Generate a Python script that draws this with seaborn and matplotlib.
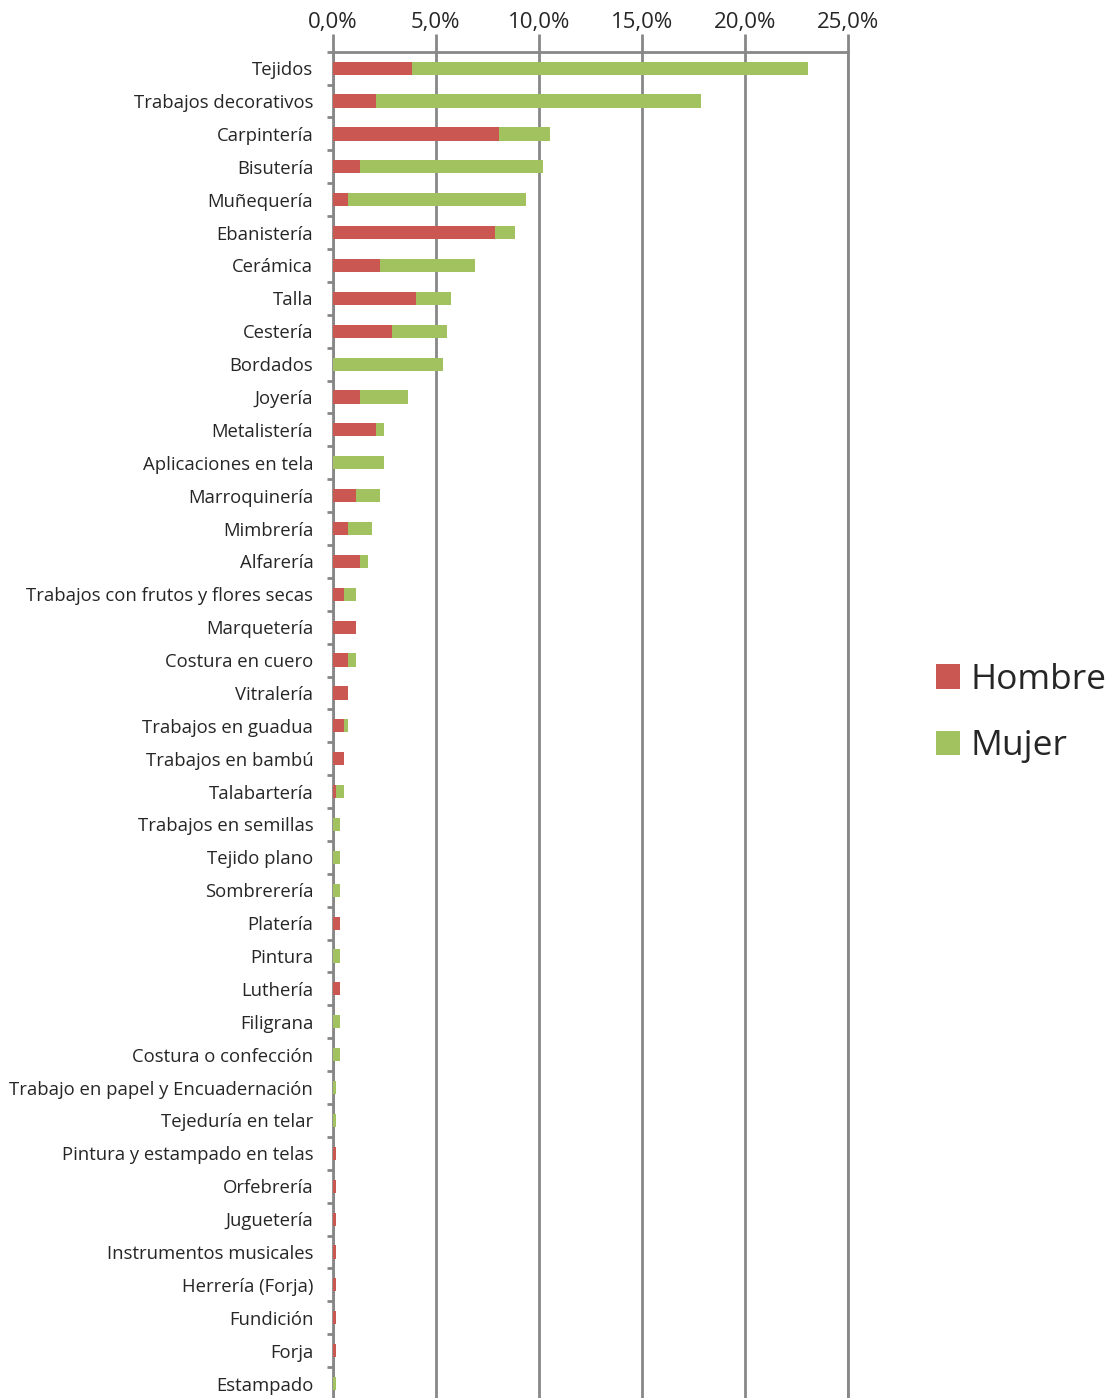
import numpy as np
import pandas as pd
import seaborn as sns
import matplotlib
matplotlib.use('Agg')
import matplotlib.pyplot as plt
from matplotlib.patches import Patch
from matplotlib.ticker import FuncFormatter

# oficios artesanales, porcentaje por sexo
oficios = ['Tejidos', 'Trabajos decorativos', 'Carpintería', 'Bisutería', 'Muñequería',
           'Ebanistería', 'Cerámica', 'Talla', 'Cestería', 'Bordados', 'Joyería',
           'Metalistería', 'Aplicaciones en tela', 'Marroquinería', 'Mimbrería', 'Alfarería',
           'Trabajos con frutos y flores secas', 'Marquetería', 'Costura en cuero', 'Vitralería',
           'Trabajos en guadua', 'Trabajos en bambú', 'Talabartería', 'Trabajos en semillas',
           'Tejido plano', 'Sombrerería', 'Platería', 'Pintura', 'Luthería', 'Filigrana',
           'Costura o confección', 'Trabajo en papel y Encuadernación', 'Tejeduría en telar',
           'Pintura y estampado en telas', 'Orfebrería', 'Juguetería', 'Instrumentos musicales',
           'Herrería (Forja)', 'Fundición', 'Forja', 'Estampado']
hombre = [3.85, 2.09, 8.05, 1.33, 0.74, 7.86, 2.29, 4.03, 2.86, 0.0, 1.33,
          2.08, 0.0, 1.13, 0.74, 1.33, 0.55, 1.13, 0.74, 0.74,
          0.55, 0.55, 0.18, 0.0, 0.0, 0.0, 0.37, 0.0, 0.37, 0.0,
          0.0, 0.0, 0.0, 0.18, 0.18, 0.18, 0.18, 0.18, 0.18, 0.18, 0.0]
mujer = [19.22, 15.79, 2.50, 8.85, 8.66, 0.97, 4.61, 1.70, 2.69, 5.37, 2.31,
         0.39, 2.47, 1.16, 1.16, 0.37, 0.58, 0.0, 0.39, 0.0,
         0.19, 0.0, 0.37, 0.37, 0.37, 0.37, 0.0, 0.37, 0.0, 0.37,
         0.37, 0.18, 0.18, 0.0, 0.0, 0.0, 0.0, 0.0, 0.0, 0.0, 0.18]

rojo = '#CB5753'
verde = '#A2C260'
gris = '#878787'

df = pd.DataFrame({'oficio': oficios, 'Hombre': hombre, 'Mujer': mujer})
df['total'] = df['Hombre'] + df['Mujer']

sns.set_style("white")
plt.rcParams['font.family'] = ['Open Sans', 'DejaVu Sans']

fig = plt.figure(figsize=(11.15, 13.98), dpi=100)
ax = fig.add_axes([0.2984, -0.0014, 0.4621, 0.9644])

# barra total (verde) y encima la parte de hombres (roja)
sns.barplot(data=df, x='total', y='oficio', orient='h', color=verde, saturation=1,
            width=0.4, errorbar=None, ax=ax, linewidth=0, zorder=3)
sns.barplot(data=df, x='Hombre', y='oficio', orient='h', color=rojo, saturation=1,
            width=0.4, errorbar=None, ax=ax, linewidth=0, zorder=4)

n = len(oficios)
ax.set_xlim(0, 25)
ax.set_ylim(n - 0.5, -0.5)
ax.set_xlabel('')
ax.set_ylabel('')
ax.set_xticks(np.arange(0, 26, 5))
ax.xaxis.set_major_formatter(FuncFormatter(lambda v, p: f'{v:.1f}%'.replace('.', ',')))
ax.xaxis.tick_top()
ax.tick_params(axis='x', top=True, bottom=False, length=13, width=2, color=gris,
               direction='out', labelsize=16, pad=0.5)
ax.set_axisbelow(True)
ax.grid(axis='x', color=gris, lw=2)
ax.grid(axis='y', visible=False)

ax.set_yticks(np.arange(-0.5, n, 1), minor=True)
ax.tick_params(axis='y', which='major', length=0, labelsize=13.3, pad=14)
ax.tick_params(axis='y', which='minor', left=True, length=4.3, width=2, color=gris)

ax.spines['bottom'].set_visible(False)
for s in ['top', 'left', 'right']:
    ax.spines[s].set_color(gris)
    ax.spines[s].set_linewidth(2)
    ax.spines[s].set_zorder(1)

handles = [Patch(facecolor=rojo, edgecolor='none'), Patch(facecolor=verde, edgecolor='none')]
fig.legend(handles, ['Hombre', 'Mujer'], loc='center left', bbox_to_anchor=(0.8395, 0.490),
           frameon=False, fontsize=25.5, handlelength=0.68, handleheight=0.68,
           handletextpad=0.28, labelspacing=0.91, borderpad=0, borderaxespad=0)

fig.savefig('out.png', dpi=100)
plt.close()
